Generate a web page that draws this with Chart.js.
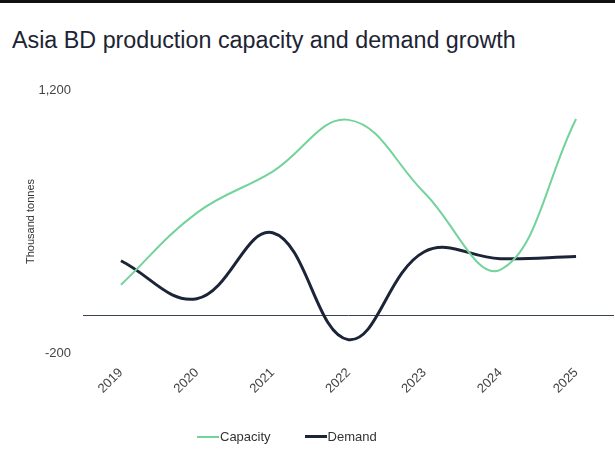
<!DOCTYPE html>
<html>
<head>
<meta charset="utf-8">
<script src="https://cdn.jsdelivr.net/npm/chart.js@4"></script>
<style>
  html, body { margin: 0; padding: 0; background: #fff; }
  body { width: 615px; height: 463px; position: relative; overflow: hidden; font-family: "Liberation Sans", Arial, sans-serif; }
  #topbar { position: absolute; left: 0; top: 0; width: 615px; height: 3px; background: #111; }
  #title { position: absolute; left: 12px; top: 27px; font-size: 23.3px; color: #1d2433; white-space: nowrap; }
  #wrap { position: absolute; left: 0; top: 0; width: 615px; height: 463px; }
  #legend { position: absolute; top: 429px; left: 197px; font-size: 13px; color: #333; display: flex; }
  #legend .item { display: flex; align-items: center; margin-right: 34px; }
  #legend .line { width: 22px; margin-right: 1px; }
</style>
</head>
<body>
<div id="topbar"></div>
<div id="title">Asia BD production capacity and demand growth</div>
<div id="wrap"><canvas id="chart" width="615" height="463"></canvas></div>
<div id="legend">
  <div class="item"><span class="line" style="height:2px;background:#72d39b"></span>Capacity</div>
  <div class="item"><span class="line" style="height:3px;background:#1c2538"></span>Demand</div>
</div>
<script>
const years = ['2019', '2020', '2021', '2022', '2023', '2024', '2025'];
const capacity = [163, 546, 766, 1041, 653, 243, 1046];
const demand = [291, 89, 440, -129, 339, 302, 314];
const yTicks = [-200, 0, 1200];

const ctx = document.getElementById('chart').getContext('2d');
const chart = new Chart(ctx, {
    type: 'line',
    data: {
        labels: years,
        datasets: [{
            label: 'Capacity',
            data: capacity,
            borderColor: '#72d39b',
            borderWidth: 2,
            pointRadius: 0,
            tension: 0.4,
            fill: false
        }, {
            label: 'Demand',
            data: demand,
            borderColor: '#1c2538',
            borderWidth: 3,
            pointRadius: 0,
            tension: 0.4,
            fill: false
        }]
    },
    options: {
        responsive: false,
        animation: false,
        layout: { padding: { top: 90, right: 1, bottom: 0, left: 0 } },
        plugins: {
            legend: { display: false },
            tooltip: { enabled: false }
        },
        scales: {
            x: {
                offset: true,
                grid: { display: false },
                border: { display: false },
                ticks: {
                    minRotation: 45,
                    maxRotation: 45,
                    padding: 4,
                    color: '#444',
                    font: { family: 'Liberation Sans', size: 13 }
                },
                afterFit: function(scale) { scale.height = 110; }
            },
            y: {
                min: -200,
                max: 1200,
                afterBuildTicks: function(scale) {
                    scale.ticks = yTicks.map(v => ({ value: v }));
                },
                grid: {
                    drawTicks: false,
                    color: c => (c.tick && c.tick.value === 0) ? '#3a4356' : 'transparent',
                    lineWidth: 1
                },
                border: { display: false },
                ticks: {
                    padding: 12,
                    color: '#444',
                    font: { family: 'Liberation Sans', size: 13 },
                    callback: v => v === 0 ? '' : v.toLocaleString('en-US')
                },
                title: {
                    display: true,
                    text: 'Thousand tonnes',
                    color: '#333',
                    font: { family: 'Liberation Sans', size: 11 },
                    padding: { top: 24, bottom: 0 }
                },
                afterFit: function(scale) { scale.width = 83; }
            }
        }
    }
});
</script>
</body>
</html>
